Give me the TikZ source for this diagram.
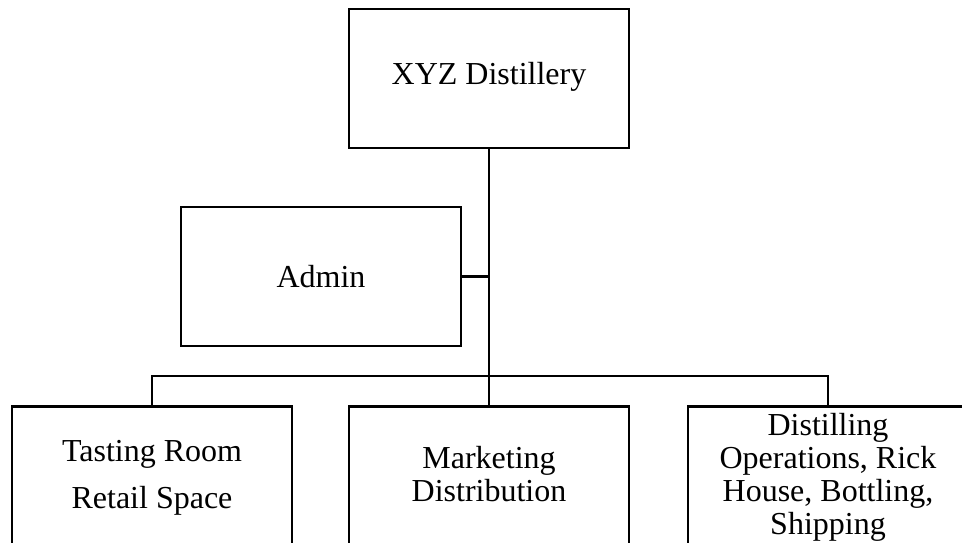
\documentclass[tikz,border=0pt]{standalone}
\usepackage{fontspec}
\setmainfont{Liberation Serif}
\begin{document}
\begin{tikzpicture}[x=1pt,y=1pt,
  box/.style={draw, line width=2.8pt, rectangle, minimum width=280pt, inner sep=0pt},
  lbl/.style={align=center, font=\fontsize{32}{33}\selectfont, inner sep=0pt},
  trunk/.style={line width=2.8pt},
  branch/.style={line width=2.2pt}]
\useasboundingbox (0,0) rectangle (962,-542);
\begin{scope}
\clip (0,0) rectangle (962,-542);
\node[box, minimum height=139pt] (top) at (489,-78.5) {};
\node[box, minimum height=139pt] (admin) at (321,-276.5) {};
\node[box, minimum height=170pt, anchor=north] (tr) at (152,-405) {};
\node[box, minimum height=170pt, anchor=north] (mk) at (489,-405) {};
\node[box, minimum height=170pt, anchor=north] (dop) at (828,-405) {};
\coordinate (hub) at (489,-376);
\draw[trunk] (top.south) -- (hub);
\draw[branch] (admin.east) -- (admin.east -| top.south);
\draw[branch] (tr.north) |- (hub);
\draw[branch] (dop.north) |- (hub);
\draw[trunk] (mk.north) -- (hub);
\end{scope}
\node[lbl] (topt) at (489,-77) {XYZ Distillery};
\node[lbl] (admint) at (321,-277) {Admin};
\node[lbl, font=\fontsize{32}{47}\selectfont] (trt) at (152,-478) {Tasting Room\\Retail Space};
\node[lbl] (mkt) at (489,-474) {Marketing\\Distribution};
\node[lbl] (dopt) at (828,-477) {Distilling\\Operations, Rick\\House, Bottling,\\Shipping};
\end{tikzpicture}
\end{document}
